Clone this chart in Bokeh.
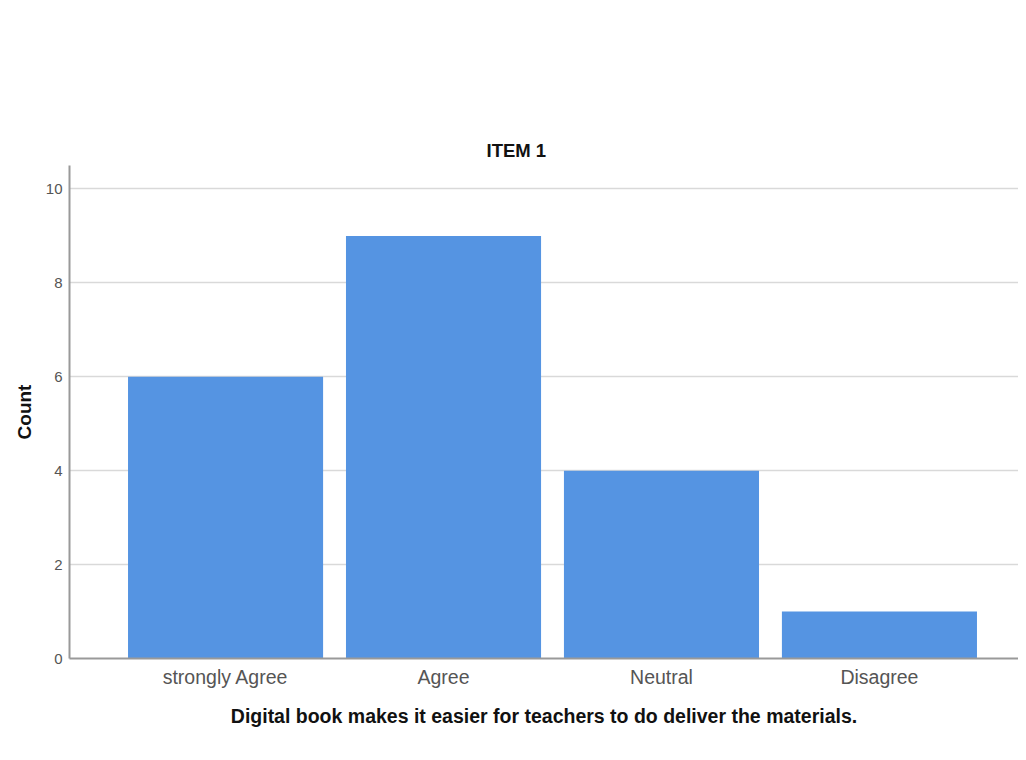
from bokeh.plotting import figure
from bokeh.models import Range1d, FixedTicker, ColumnDataSource
from bokeh.embed import file_html
from bokeh.resources import INLINE

categories = ["strongly Agree", "Agree", "Neutral", "Disagree"]
counts = [6, 9, 4, 1]
y_ticks = [0, 2, 4, 6, 8, 10]

idx = list(range(len(categories)))
src = ColumnDataSource(dict(x=idx, top=counts, cat=categories))

p = figure(width=1018, height=752, output_backend="svg", toolbar_location=None,
           x_range=Range1d(-0.716, 3.638), y_range=Range1d(0, 10.5),
           min_border_left=69, min_border_top=165, min_border_bottom=94, min_border_right=0)
p.outline_line_color = None
p.background_fill_color = "white"

p.vbar(x="x", top="top", width=0.895, source=src, color="#5594E2", line_color=None)

p.title.text = "ITEM 1"
p.title.align = "left"
p.title.offset = 417
p.title.standoff = 10
p.title.text_font = "Liberation Sans"
p.title.text_font_size = "18.5px"
p.title.text_font_style = "bold"
p.title.text_color = "#111111"

xa = p.xaxis[0]
xa.ticker = FixedTicker(ticks=idx)
xa.major_label_overrides = {i: c for i, c in zip(idx, categories)}
xa.major_tick_line_color = None
xa.major_tick_out = 0
xa.major_tick_in = 0
xa.minor_tick_line_color = None
xa.axis_line_color = "#999999"
xa.axis_line_width = 2
xa.major_label_text_font = "Liberation Sans"
xa.major_label_text_font_size = "19.5px"
xa.major_label_text_color = "#555555"
xa.major_label_standoff = 7
xa.axis_label = "Digital book makes it easier for teachers to do deliver the materials."
xa.axis_label_text_font = "Liberation Sans"
xa.axis_label_text_font_size = "19.5px"
xa.axis_label_text_font_style = "bold"
xa.axis_label_text_color = "#111111"
xa.axis_label_standoff = 14

ya = p.yaxis[0]
ya.ticker = FixedTicker(ticks=y_ticks)
ya.major_tick_line_color = None
ya.major_tick_out = 0
ya.major_tick_in = 0
ya.minor_tick_line_color = None
ya.axis_line_color = "#999999"
ya.axis_line_width = 2
ya.major_label_text_font = "Liberation Sans"
ya.major_label_text_font_size = "15px"
ya.major_label_text_color = "#555555"
ya.major_label_standoff = 7
ya.axis_label = "Count"
ya.axis_label_text_font = "Liberation Sans"
ya.axis_label_text_font_size = "19px"
ya.axis_label_text_font_style = "bold"
ya.axis_label_text_color = "#111111"
ya.axis_label_standoff = 8

p.xgrid.grid_line_color = None
p.ygrid.grid_line_color = "#D9D9D9"
p.ygrid.grid_line_width = 1.5

open("out.html", "w").write(file_html(p, INLINE))
